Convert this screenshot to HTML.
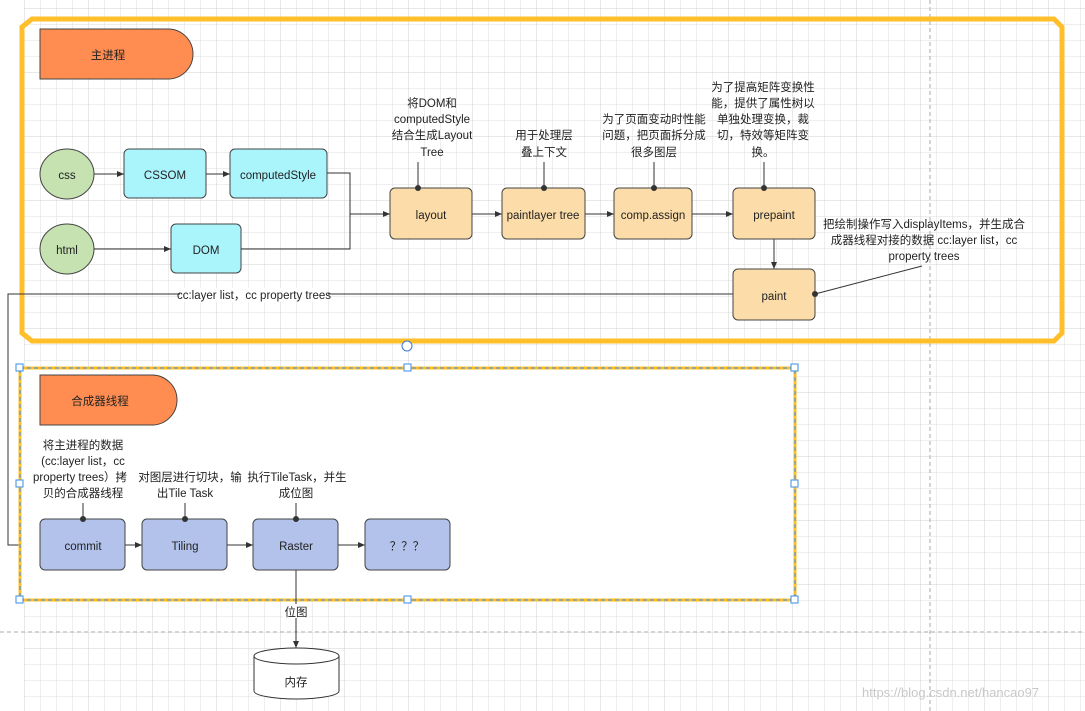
<!DOCTYPE html>
<html><head><meta charset="utf-8"><style>
html,body{margin:0;padding:0;background:#fff}
svg{display:block}
text{font-family:"Liberation Sans","Noto Sans CJK SC",sans-serif;font-size:11.5px;fill:#222}
</style></head><body>
<svg width="1085" height="711" viewBox="0 0 1085 711" xmlns="http://www.w3.org/2000/svg">
<defs>
<pattern id="g" x="24" y="8" width="16" height="16" patternUnits="userSpaceOnUse">
<path d="M0 0H16M0 0V16" stroke="#dedede" stroke-width="1" fill="none"/>
</pattern>
<pattern id="G" x="24" y="8" width="64" height="64" patternUnits="userSpaceOnUse">
<path d="M0 0H64M0 0V64" stroke="#d0d0d0" stroke-width="1" fill="none"/>
</pattern>
<marker id="a" markerWidth="8" markerHeight="8" refX="7" refY="4" orient="auto" markerUnits="userSpaceOnUse">
<path d="M0 1L7 4L0 7z" fill="#333"/></marker>
</defs>
<rect x="24" y="0" width="1061" height="711" fill="url(#g)"/>
<rect x="24" y="0" width="1061" height="711" fill="url(#G)"/>
<line x1="930" y1="0" x2="930" y2="711" stroke="#aaa" stroke-dasharray="4 3"/>
<line x1="0" y1="632" x2="1085" y2="632" stroke="#aaa" stroke-dasharray="4 3"/>

<path d="M32 19H1054L1062 27V333L1054 341H32L22 333V27Z" fill="none" stroke="#ffbf2b" stroke-width="5"/>
<path d="M40 29H168A25 25 0 0 1 168 79H40Z" fill="#ff8c50" stroke="#444"/>
<text x="108" y="59" text-anchor="middle">主进程</text>

<g stroke="#444" fill="#c5e2b0"><ellipse cx="67" cy="174" rx="27" ry="25"/><ellipse cx="67" cy="249" rx="27" ry="25"/></g>
<text x="67" y="179" text-anchor="middle">css</text>
<text x="67" y="254" text-anchor="middle">html</text>
<g stroke="#444" fill="#aaf4fc">
<rect x="124" y="149" width="82" height="49" rx="5"/>
<rect x="230" y="149" width="97" height="49" rx="5"/>
<rect x="171" y="224" width="70" height="49" rx="5"/>
</g>
<text x="165" y="179" text-anchor="middle">CSSOM</text>
<text x="278" y="179" text-anchor="middle">computedStyle</text>
<text x="206" y="254" text-anchor="middle">DOM</text>

<g stroke="#333" fill="none">
<line x1="94" y1="174" x2="124" y2="174" marker-end="url(#a)"/>
<line x1="206" y1="174" x2="230" y2="174" marker-end="url(#a)"/>
<line x1="94" y1="249" x2="171" y2="249" marker-end="url(#a)"/>
<path d="M327 173H350V249H241"/>
<line x1="350" y1="214" x2="390" y2="214" marker-end="url(#a)"/>
<line x1="472" y1="214" x2="502" y2="214" marker-end="url(#a)"/>
<line x1="585" y1="214" x2="614" y2="214" marker-end="url(#a)"/>
<line x1="692" y1="214" x2="733" y2="214" marker-end="url(#a)"/>
<line x1="774" y1="239" x2="774" y2="269" marker-end="url(#a)"/>
<path d="M733 294H8V545H40" marker-end="url(#a)"/>
<line x1="418" y1="162" x2="418" y2="188"/>
<line x1="544" y1="162" x2="544" y2="188"/>
<line x1="654" y1="162" x2="654" y2="188"/>
<line x1="764" y1="162" x2="764" y2="188"/>
<line x1="922" y1="266" x2="815" y2="294"/>
</g>

<g stroke="#444" fill="#fcdca8">
<rect x="390" y="188" width="82" height="51" rx="5"/>
<rect x="502" y="188" width="83" height="51" rx="5"/>
<rect x="614" y="188" width="78" height="51" rx="5"/>
<rect x="733" y="188" width="82" height="51" rx="5"/>
<rect x="733" y="269" width="82" height="51" rx="5"/>
</g>
<g fill="#333"><circle cx="418" cy="188" r="3"/><circle cx="544" cy="188" r="3"/><circle cx="654" cy="188" r="3"/><circle cx="764" cy="188" r="3"/><circle cx="815" cy="294" r="3"/></g>
<g text-anchor="middle">
<text x="431" y="219">layout</text>
<text x="543" y="219">paintlayer tree</text>
<text x="653" y="219">comp.assign</text>
<text x="774" y="219">prepaint</text>
<text x="774" y="300">paint</text>
<text x="432" y="107">将DOM和</text>
<text x="432" y="123">computedStyle</text>
<text x="432" y="139">结合生成Layout</text>
<text x="432" y="156">Tree</text>
<text x="544" y="139">用于处理层</text>
<text x="544" y="156">叠上下文</text>
<text x="654" y="123">为了页面变动时性能</text>
<text x="654" y="139">问题，把页面拆分成</text>
<text x="654" y="156">很多图层</text>
<text x="763" y="91">为了提高矩阵变换性</text>
<text x="763" y="107">能，提供了属性树以</text>
<text x="763" y="123">单独处理变换，裁</text>
<text x="763" y="139">切，特效等矩阵变</text>
<text x="763" y="156">换。</text>
<text x="924" y="228">把绘制操作写入displayItems，并生成合</text>
<text x="924" y="244">成器线程对接的数据 cc:layer list，cc</text>
<text x="924" y="260">property trees</text>
</g>
<rect x="180" y="288" width="148" height="14" fill="#fff"/>
<text x="254" y="299" text-anchor="middle">cc:layer list，cc property trees</text>
<circle cx="407" cy="346" r="5" fill="#fff" stroke="#3a7bd5"/>

<rect x="20" y="368" width="775" height="232" fill="#fff" stroke="#ffbf2b" stroke-width="3"/>
<rect x="20" y="368" width="775" height="232" fill="none" stroke="#3a8ee6" stroke-width="1" stroke-dasharray="4 3"/>
<g fill="#fff" stroke="#3a8ee6">
<rect x="16" y="364" width="7" height="7"/><rect x="404" y="364" width="7" height="7"/><rect x="791" y="364" width="7" height="7"/>
<rect x="16" y="480" width="7" height="7"/><rect x="791" y="480" width="7" height="7"/>
<rect x="16" y="596" width="7" height="7"/><rect x="404" y="596" width="7" height="7"/><rect x="791" y="596" width="7" height="7"/>
</g>
<path d="M40 375H152A25 25 0 0 1 152 425H40Z" fill="#ff8c50" stroke="#444"/>
<text x="100" y="405" text-anchor="middle">合成器线程</text>

<g stroke="#333" fill="none">
<line x1="125" y1="545" x2="142" y2="545" marker-end="url(#a)"/>
<line x1="227" y1="545" x2="253" y2="545" marker-end="url(#a)"/>
<line x1="338" y1="545" x2="365" y2="545" marker-end="url(#a)"/>
<line x1="83" y1="503" x2="83" y2="519"/>
<line x1="185" y1="503" x2="185" y2="519"/>
<line x1="296" y1="503" x2="296" y2="519"/>
<line x1="296" y1="570" x2="296" y2="648" marker-end="url(#a)"/>
</g>
<g stroke="#444" fill="#b2c2ea">
<rect x="40" y="519" width="85" height="51" rx="5"/>
<rect x="142" y="519" width="85" height="51" rx="5"/>
<rect x="253" y="519" width="85" height="51" rx="5"/>
<rect x="365" y="519" width="85" height="51" rx="5"/>
</g>
<g fill="#333"><circle cx="83" cy="519" r="3"/><circle cx="185" cy="519" r="3"/><circle cx="296" cy="519" r="3"/></g>
<g text-anchor="middle">
<text x="83" y="550">commit</text>
<text x="185" y="550">Tiling</text>
<text x="296" y="550">Raster</text>
<text x="407" y="550">？？？</text>
<text x="83" y="449">将主进程的数据</text>
<text x="83" y="465">(cc:layer list，cc</text>
<text x="80" y="481">property trees）拷</text>
<text x="83" y="497">贝的合成器线程</text>
<text x="190" y="481">对图层进行切块，输</text>
<text x="185" y="497">出Tile Task</text>
<text x="297" y="481">执行TileTask，并生</text>
<text x="296" y="497">成位图</text>
</g>
<rect x="283" y="604" width="26" height="14" fill="#fff"/>
<text x="296" y="616" text-anchor="middle">位图</text>
<path d="M254 656V691A42.5 8 0 0 0 339 691V656" fill="#fff" stroke="#333"/>
<ellipse cx="296.5" cy="656" rx="42.5" ry="8" fill="#fff" stroke="#333"/>
<text x="296" y="686" text-anchor="middle">内存</text>
<text x="862" y="697" style="fill:#c8c8c8;font-size:13px">https://blog.csdn.net/hancao97</text>
</svg>
</body></html>
